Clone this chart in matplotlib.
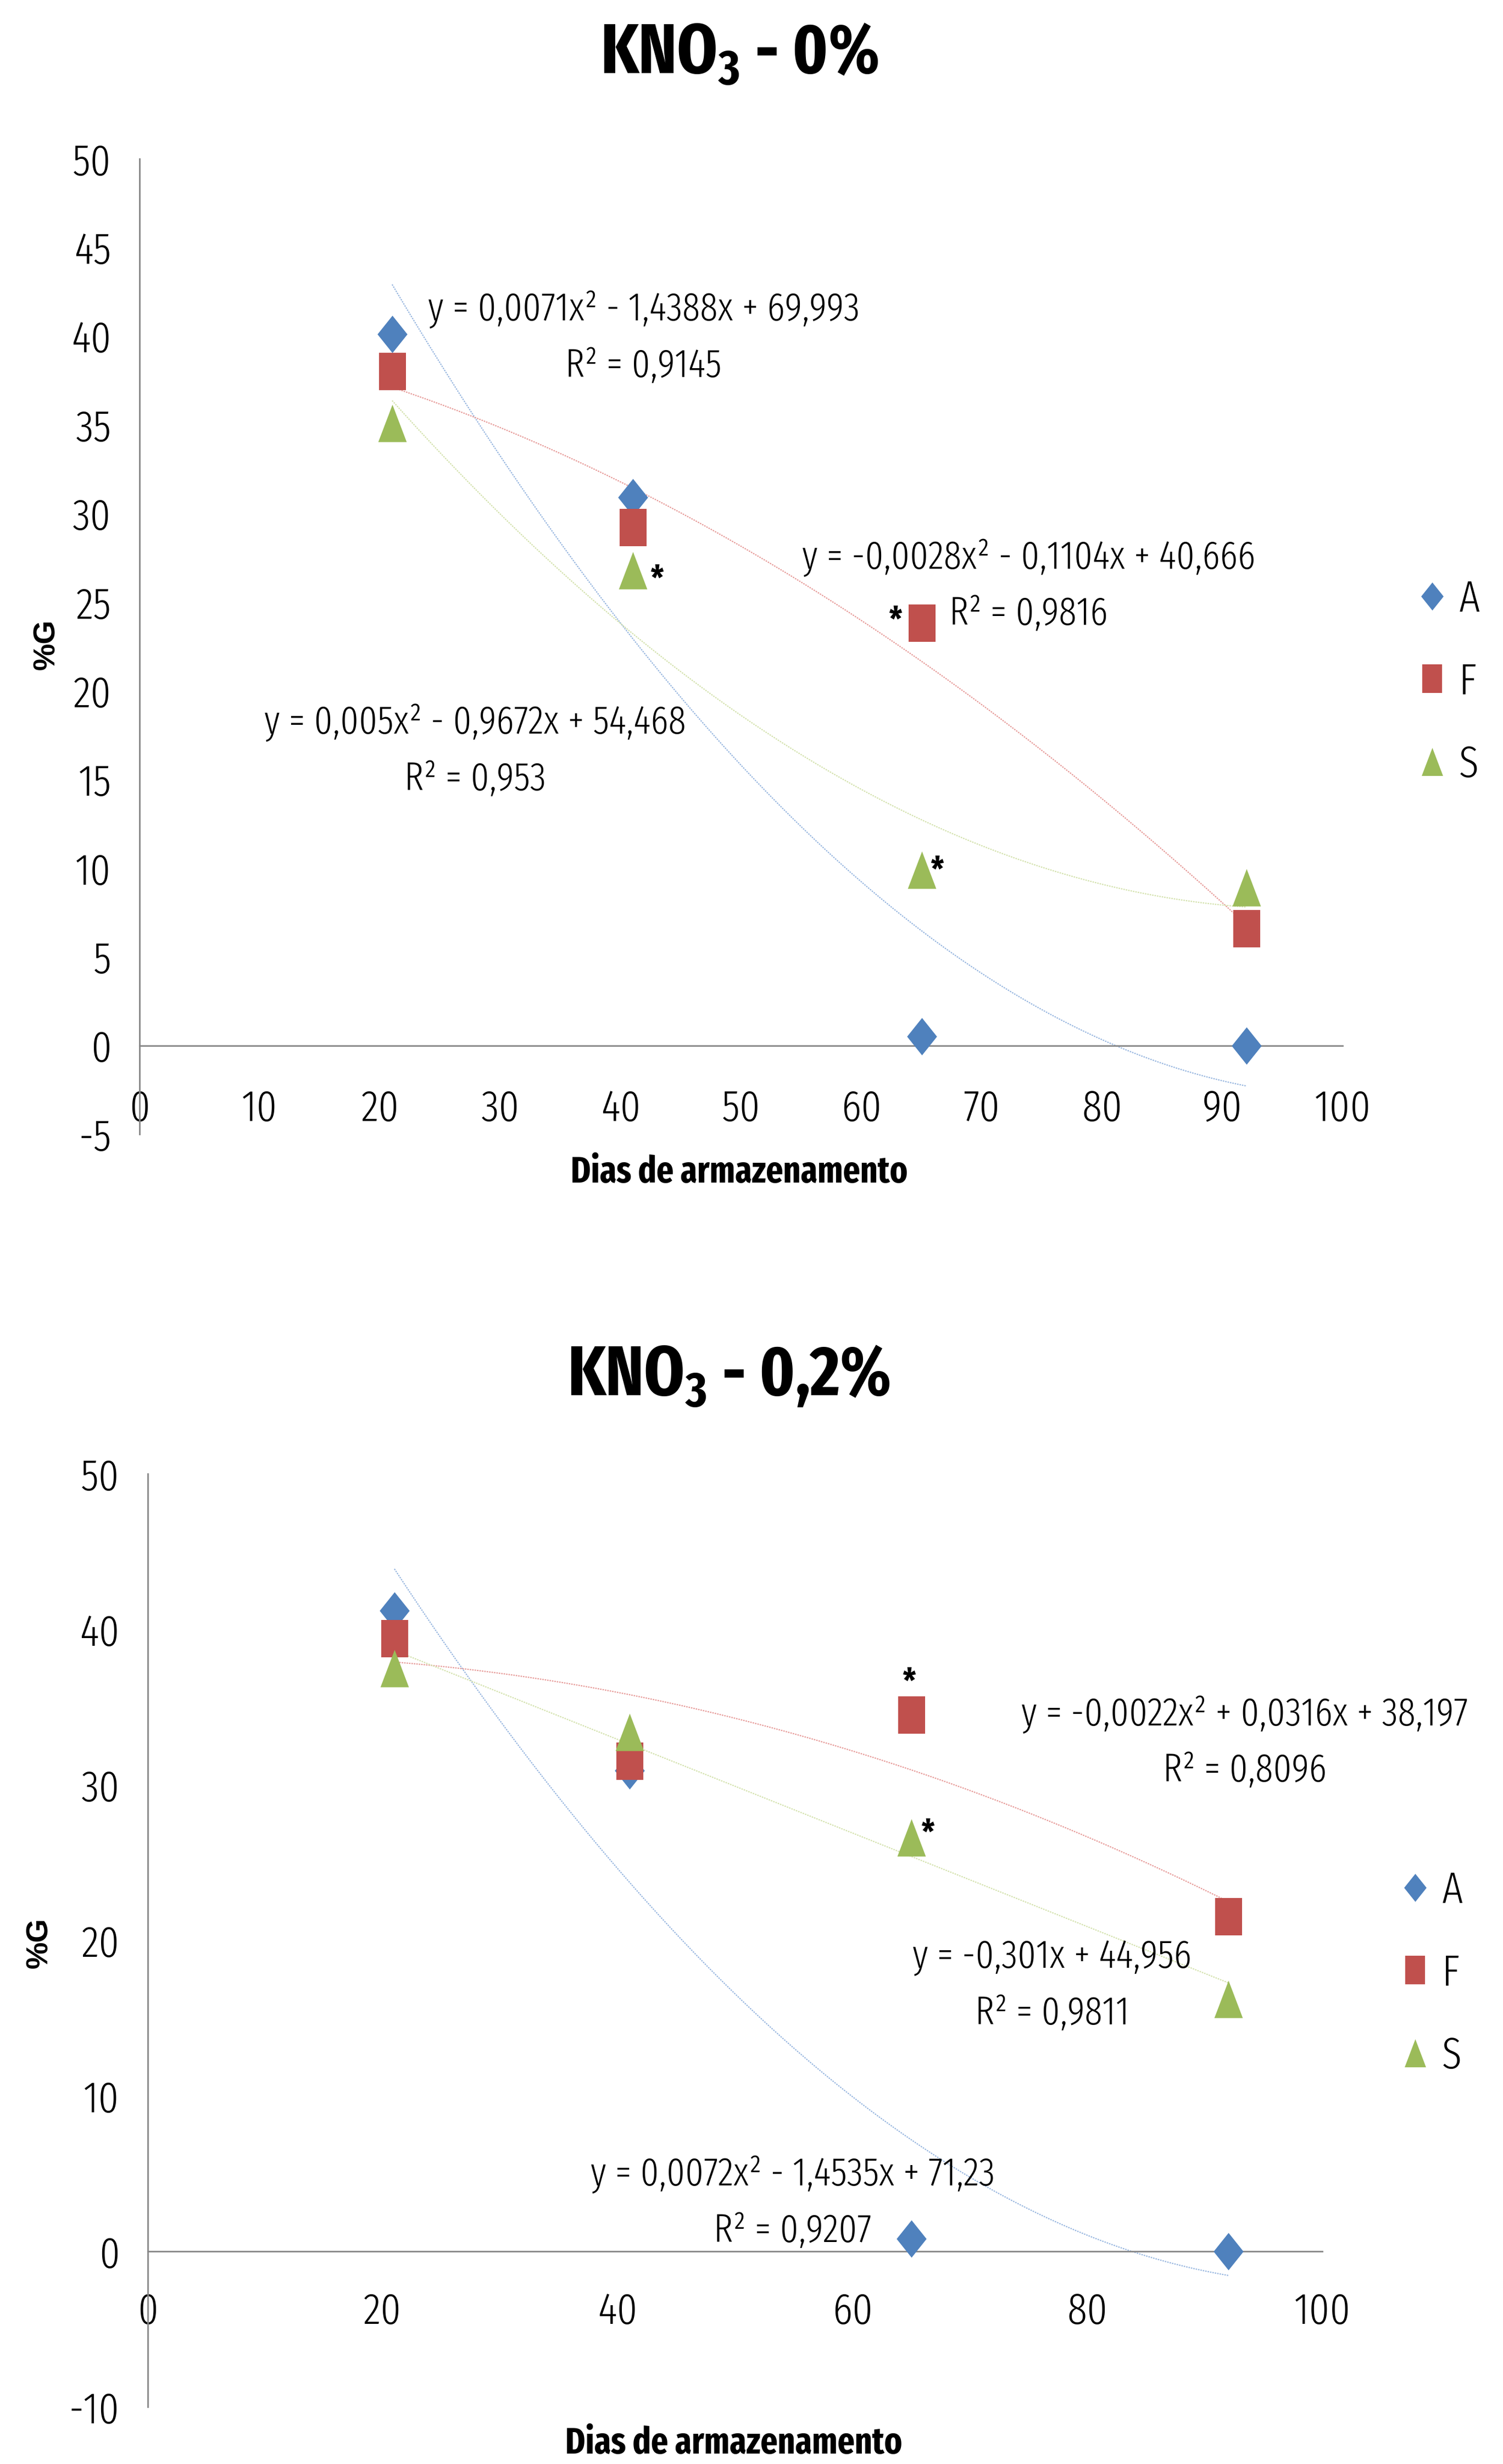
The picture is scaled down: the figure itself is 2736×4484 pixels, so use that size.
import numpy as np
import matplotlib
matplotlib.use("Agg")
import matplotlib.pyplot as plt

plt.rcParams['font.family'] = ['Fira Sans Extra Condensed', 'DejaVu Sans']
plt.rcParams['mathtext.default'] = 'regular'

# data
dias = [21, 41, 65, 92]
top_A = [40.1, 30.9, 0.5, 0.0]
top_F = [38.0, 29.2, 23.8, 6.6]
top_S = [35.1, 26.8, 9.9, 8.9]
bot_A = [41.2, 30.9, 0.8, 0.0]
bot_F = [39.4, 31.5, 34.5, 21.5]
bot_S = [37.5, 33.4, 26.6, 16.2]

# trendline coefficients as printed in the chart
top_coef_A = [0.0071, -1.4388, 69.993]
top_coef_F = [-0.0028, -0.1104, 40.666]
top_coef_S = [0.005, -0.9672, 54.468]
bot_coef_A = [0.0072, -1.4535, 71.23]
bot_coef_F = [-0.0022, 0.0316, 38.197]
bot_coef_S = [-0.301, 44.956]

top_eq = [("y = 0,0071x² - 1,4388x + 69,993", "R² = 0,9145"),
          ("y = -0,0028x² - 0,1104x + 40,666", "R² = 0,9816"),
          ("y = 0,005x² - 0,9672x + 54,468", "R² = 0,953")]
bot_eq = [("y = 0,0072x² - 1,4535x + 71,23", "R² = 0,9207"),
          ("y = -0,0022x² + 0,0316x + 38,197", "R² = 0,8096"),
          ("y = -0,301x + 44,956", "R² = 0,9811")]
series = ['A', 'F', 'S']

colors = {'A': '#4F81BD', 'F': '#C0504D', 'S': '#9BBB59'}
trend_colors = {'A': '#9AB8E0', 'F': '#E79C9A', 'S': '#D4E2AE'}
markers = {
    'A': [(0, -0.5), (0.40, 0), (0, 0.5), (-0.40, 0), (0, -0.5)],
    'F': [(-0.36, -0.5), (0.36, -0.5), (0.36, 0.5), (-0.36, 0.5), (-0.36, -0.5)],
    'S': [(-0.38, -0.5), (0.38, -0.5), (0, 0.5), (-0.38, -0.5)],
}
MS = 49
FS = 58
EQ_FS = 52

fig = plt.figure(figsize=(27.36, 44.84), dpi=100)
ax1 = fig.add_axes([0.0928, 0.5397, 0.8005, 0.3959])
ax2 = fig.add_axes([0.0983, 0.0232, 0.7815, 0.3787])


def draw(ax, vals, coefs, ylim, yticks, xticks, pad_x):
    for s, v, c in zip(series, vals, coefs):
        xx = np.linspace(dias[0], dias[-1], 200)
        ax.plot(xx, np.polyval(c, xx), color=trend_colors[s], lw=1.6,
                ls=(0, (1.2, 0.8)), zorder=2)
    for s, v in zip(series, vals):
        ax.plot(dias, v, ls='none', marker=markers[s], ms=MS,
                color=colors[s], mec=colors[s], mew=0, label=s, zorder=3)
    ax.set_xlim(0, 100)
    ax.set_ylim(*ylim)
    ax.set_xticks(xticks)
    ax.set_yticks(yticks)
    ax.set_yticklabels([str(t) for t in yticks])
    ax.spines['top'].set_visible(False)
    ax.spines['right'].set_visible(False)
    ax.spines['bottom'].set_position(('data', 0))
    for sp in ('left', 'bottom'):
        ax.spines[sp].set_color('#868686')
        ax.spines[sp].set_linewidth(2)
    ax.tick_params(axis='both', length=0, labelsize=FS)
    for lab in ax.get_xticklabels() + ax.get_yticklabels():
        lab.set_fontweight(300)
    ax.tick_params(axis='y', pad=37)
    ax.tick_params(axis='x', pad=pad_x)
    ax.set_xlabel('Dias de armazenamento', fontsize=48, fontweight='bold')
    ax.set_ylabel('%G', fontsize=40, fontweight='bold',
                  family=['Liberation Sans', 'DejaVu Sans'])
    leg = ax.legend(loc='center left', frameon=False, fontsize=FS,
                    handlelength=0.6, handletextpad=0.3, labelspacing=0.92,
                    borderpad=0, markerscale=0.75)
    for t in leg.get_texts():
        t.set_fontweight(300)


draw(ax1, [top_A, top_F, top_S], [top_coef_A, top_coef_F, top_coef_S],
     (-5, 50), list(range(-5, 51, 5)), list(range(0, 101, 10)), 56)
draw(ax2, [bot_A, bot_F, bot_S], [bot_coef_A, bot_coef_F, bot_coef_S],
     (-10, 50), list(range(-10, 51, 10)), list(range(0, 101, 20)), 52)

ax1.xaxis.set_label_coords(0.4987, -0.021)
ax1.yaxis.set_label_coords(-0.065, 0.502)
ax2.xaxis.set_label_coords(0.4987, -0.020)
ax2.yaxis.set_label_coords(-0.080, 0.497)
ax1.get_legend().set_bbox_to_anchor((1.045, 0.463))
ax2.get_legend().set_bbox_to_anchor((1.049, 0.464))

# equations: trend equation line above, R² line below
for ax, eqs, pos in [(ax1, top_eq, [(41.9, 39.9), (73.9, 25.9), (27.9, 16.6)]),
                     (ax2, bot_eq, [(54.9, 3.1), (93.4, 32.7), (77.0, 17.1)])]:
    for (eq, r2), (x, y) in zip(eqs, pos):
        ax.annotate(eq, (x, y), xytext=(0, 37), textcoords='offset points',
                    ha='center', va='center', fontsize=EQ_FS, fontweight=300,
                    zorder=4)
        ax.annotate(r2, (x, y), xytext=(0, -37), textcoords='offset points',
                    ha='center', va='center', fontsize=EQ_FS, fontweight=300,
                    zorder=4)

# significance marks
for ax, pts in [(ax1, [(43.0, 26.2), (62.8, 23.9), (66.3, 9.8)]),
                (ax2, [(64.8, 36.5), (66.4, 26.8)])]:
    for x, y in pts:
        ax.text(x, y, '*', ha='center', va='center', fontsize=46,
                fontweight='bold', zorder=4)

fig.text(0.492, 0.9777, 'KNO$_3$ - 0%', ha='center', va='center',
         fontsize=92, fontweight='bold')
fig.text(0.485, 0.4413, 'KNO$_3$ - 0,2%', ha='center', va='center',
         fontsize=92, fontweight='bold')

fig.savefig('out.png', dpi=100)
